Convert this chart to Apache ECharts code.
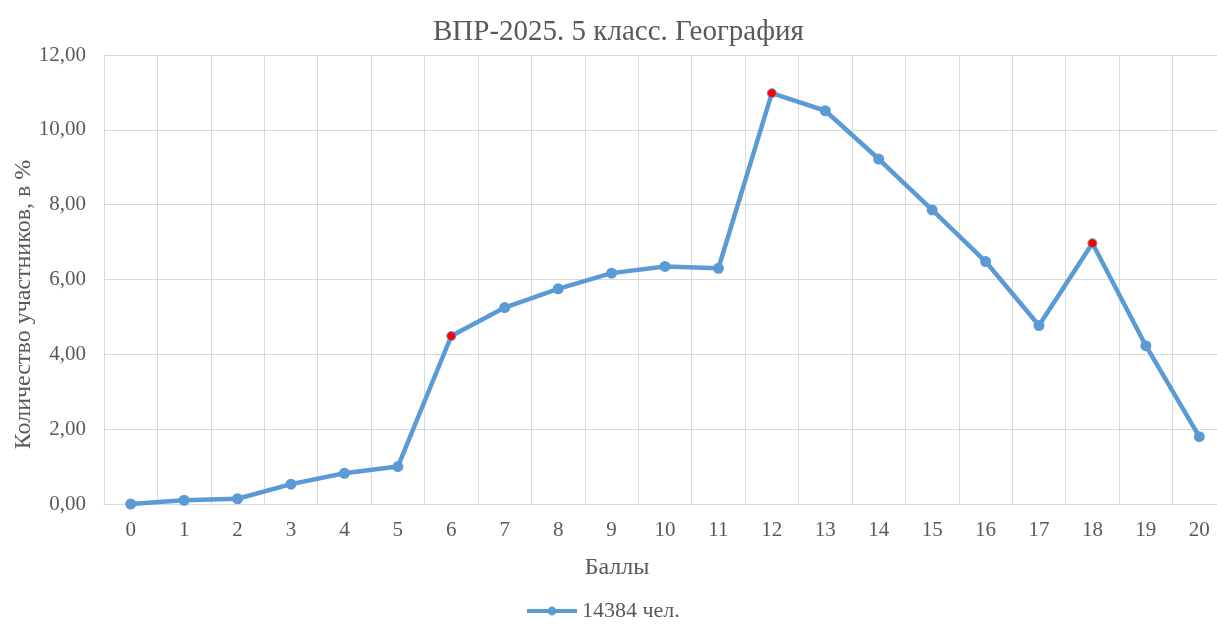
<!DOCTYPE html>
<html>
<head>
<meta charset="utf-8">
<script src="https://cdn.jsdelivr.net/npm/echarts@6/dist/echarts.min.js"></script>
<style>
  html, body { margin: 0; padding: 0; background: #fff; }
  #chart { width: 1217px; height: 625px; }
</style>
</head>
<body>
<div id="chart"></div>
<script>
const scores = ["0","1","2","3","4","5","6","7","8","9","10","11","12","13","14","15","16","17","18","19","20"];
const percents = [0.00, 0.10, 0.14, 0.53, 0.82, 1.00, 4.49, 5.25, 5.75, 6.17, 6.35, 6.30, 10.98, 10.51, 9.22, 7.86, 6.48, 4.77, 6.97, 4.23, 1.80];
const highlighted = [6, 12, 18];
const seriesName = "14384 чел.";

const font = "'Liberation Serif', 'DejaVu Serif', serif";
const blue = "#5B9BD5";

const chart = echarts.init(document.getElementById("chart"));

const points = percents.map((v, i) => {
  if (highlighted.includes(i)) {
    return { value: v, symbolSize: 9, itemStyle: { color: "#ff0000", borderColor: blue, borderWidth: 1 } };
  }
  return v;
});

chart.setOption({
  backgroundColor: "#fff",
  animation: false,
  title: {
    text: "ВПР-2025. 5 класс. География",
    left: 428,
    top: 13,
    textStyle: { fontFamily: font, fontSize: 29, fontWeight: "normal", color: "#595959" }
  },
  legend: {
    bottom: -2,
    left: 520,
    itemWidth: 50,
    itemHeight: 11,
    itemGap: 4,
    lineStyle: { width: 4 },
    textStyle: { fontFamily: font, fontSize: 22, color: "#595959" },
    data: [seriesName]
  },
  grid: { left: 104, top: 55, width: 1122, height: 449, containLabel: false, outerBoundsMode: "none" },
  xAxis: {
    type: "category",
    data: scores,
    boundaryGap: true,
    name: "Баллы",
    nameLocation: "middle",
    nameGap: 52,
    nameTextStyle: { fontFamily: font, fontSize: 24, color: "#595959", padding: [0, 96, 0, 0] },
    axisLine: { lineStyle: { color: "#d9d9d9" } },
    axisTick: { show: false },
    axisLabel: { fontFamily: font, fontSize: 21, color: "#595959", margin: 16 },
    splitLine: { show: true, interval: 0, lineStyle: { color: "#d9d9d9", width: 1 } }
  },
  yAxis: {
    type: "value",
    min: 0,
    max: 12,
    interval: 2,
    name: "Количество участников, в %",
    nameLocation: "middle",
    nameGap: 68,
    nameMoveOverlap: false,
    nameTextStyle: { fontFamily: font, fontSize: 24, color: "#595959", padding: [0, 50, 0, 0] },
    axisLine: { show: true, lineStyle: { color: "#d9d9d9" } },
    axisTick: { show: false },
    axisLabel: {
      fontFamily: font, fontSize: 21, color: "#595959", margin: 18,
      formatter: v => v.toFixed(2).replace(".", ",")
    },
    splitLine: { lineStyle: { color: "#d9d9d9", width: 1 } }
  },
  series: [{
    name: seriesName,
    type: "line",
    data: points,
    symbol: "circle",
    symbolSize: 11,
    lineStyle: { color: blue, width: 4.5 },
    itemStyle: { color: blue }
  }]
});
</script>
</body>
</html>
